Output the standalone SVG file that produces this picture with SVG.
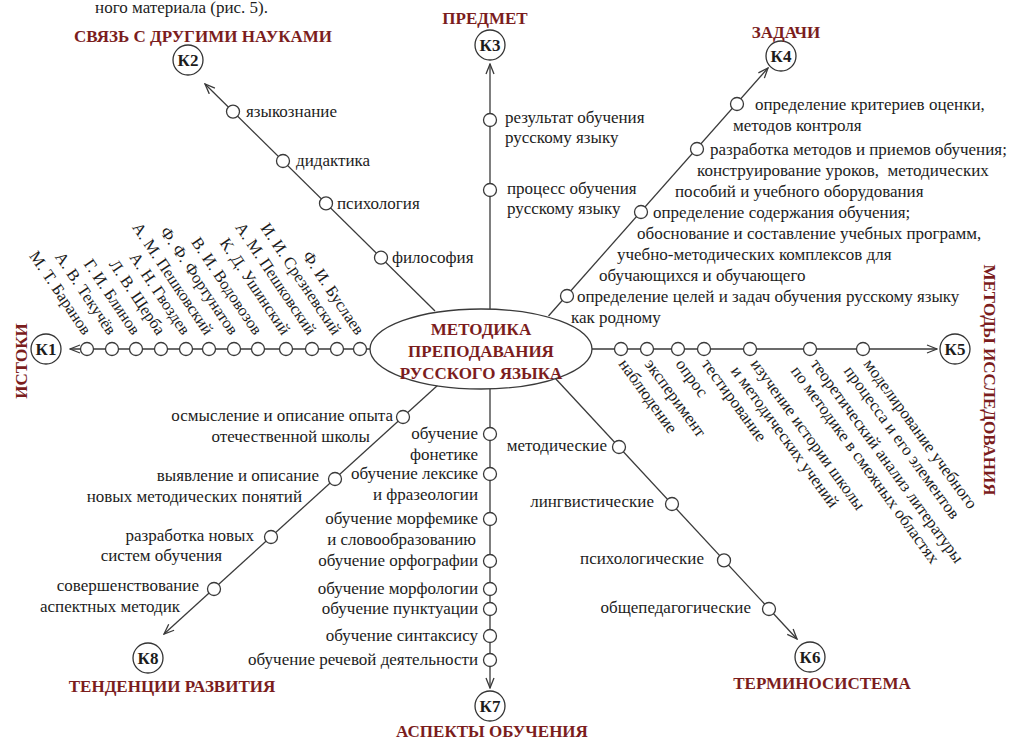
<svg xmlns="http://www.w3.org/2000/svg" width="1018" height="742" viewBox="0 0 1018 742">
<defs>
<style>
text{font-family:"Liberation Serif","Times New Roman",serif;font-size:17px;fill:#1c1c1c}
.h{font-weight:bold;fill:#7b1d1d}
.k{font-weight:bold;text-anchor:middle;fill:#1c1c1c}
.m{text-anchor:middle}
.e{text-anchor:end}
.n{font-size:16.5px}
.ln{stroke:#3a3a3a;stroke-width:1.3;fill:none;marker-end:url(#a)}
.d{fill:#fff;stroke:#3a3a3a;stroke-width:1.3}
.kc{fill:#fff;stroke:#333;stroke-width:1.3}
</style>
<marker id="a" viewBox="0 0 12 10" refX="11" refY="5" markerWidth="12" markerHeight="10" orient="auto" markerUnits="userSpaceOnUse">
<path d="M1,1 L11,5 L1,9" fill="none" stroke="#3a3a3a" stroke-width="1.3"/>
</marker>
</defs>
<rect width="1018" height="742" fill="#fff"/>
<text x="268" y="13" class="e" style="font-size:17px">ного материала (рис. 5).</text>

<g id="connectors">
<path class="ln" d="M370,349 L70,349"/>
<path class="ln" d="M435,311 L205,84"/>
<path class="ln" d="M490,309 L490,64"/>
<path class="ln" d="M548.5,316 L768,68"/>
<path class="ln" d="M592,349 L937,349"/>
<path class="ln" d="M555,378 L797,639"/>
<path class="ln" d="M490,389 L490,688"/>
<path class="ln" d="M438,385 L164,634"/>
</g>

<g id="center">
<ellipse cx="481" cy="349" rx="111" ry="40" fill="#fff" stroke="#3a3a3a" stroke-width="1.3"/>
<text x="481" y="335" class="h m">МЕТОДИКА</text>
<text x="481" y="357" class="h m">ПРЕПОДАВАНИЯ</text>
<text x="481" y="379" class="h m">РУССКОГО ЯЗЫКА</text>
</g>

<g id="k1">
<circle class="kc" cx="46" cy="349" r="15"/><text x="46" y="355" class="k">К1</text>
<text transform="translate(27,361) rotate(-90)" class="h m">ИСТОКИ</text>
<g class="dots">
<circle class="d" cx="87" cy="349" r="6.5"/><circle class="d" cx="112" cy="349" r="6.5"/><circle class="d" cx="136" cy="349" r="6.5"/><circle class="d" cx="161" cy="349" r="6.5"/><circle class="d" cx="186" cy="349" r="6.5"/><circle class="d" cx="209" cy="349" r="6.5"/><circle class="d" cx="234" cy="349" r="6.5"/><circle class="d" cx="258" cy="349" r="6.5"/><circle class="d" cx="286" cy="349" r="6.5"/><circle class="d" cx="312" cy="349" r="6.5"/><circle class="d" cx="337" cy="349" r="6.5"/><circle class="d" cx="360" cy="349" r="6.5"/>
</g>
<text class="e n" transform="translate(83,336) rotate(56)">М. Т. Баранов</text>
<text class="e n" transform="translate(108,336) rotate(56)">А. В. Текучёв</text>
<text class="e n" transform="translate(132,336) rotate(56)">Г. И. Блинов</text>
<text class="e n" transform="translate(157,336) rotate(56)">Л. В. Щерба</text>
<text class="e n" transform="translate(182,336) rotate(56)">А. Н. Гвоздев</text>
<text class="e n" transform="translate(205,336) rotate(56)">А. М. Пешковский</text>
<text class="e n" transform="translate(230,336) rotate(56)">Ф. Ф. Фортунатов</text>
<text class="e n" transform="translate(254,336) rotate(56)">В. И. Водовозов</text>
<text class="e n" transform="translate(282,336) rotate(56)">К. Д. Ушинский</text>
<text class="e n" transform="translate(308,336) rotate(56)">А. М. Пешковский</text>
<text class="e n" transform="translate(333,336) rotate(56)">И. И. Срезневский</text>
<text class="e n" transform="translate(356,336) rotate(56)">Ф. И. Буслаев</text>
</g>

<g id="k2">
<circle class="kc" cx="188" cy="60" r="15"/><text x="188" y="66" class="k">К2</text>
<text x="203" y="42" class="h m">СВЯЗЬ С ДРУГИМИ НАУКАМИ</text>
<circle class="d" cx="233" cy="111.6" r="6.5"/><circle class="d" cx="283" cy="161" r="6.5"/><circle class="d" cx="326" cy="203.4" r="6.5"/><circle class="d" cx="381" cy="257.7" r="6.5"/>
<text x="246" y="117">языкознание</text>
<text x="296" y="166">дидактика</text>
<text x="337" y="209">психология</text>
<text x="392" y="263">философия</text>
</g>

<g id="k3">
<circle class="kc" cx="490" cy="45" r="15"/><text x="490" y="51" class="k">К3</text>
<text x="485" y="24" class="h m">ПРЕДМЕТ</text>
<circle class="d" cx="490" cy="120" r="6.5"/><circle class="d" cx="490" cy="190" r="6.5"/>
<text x="505" y="123">результат обучения</text>
<text x="505" y="143">русскому языку</text>
<text x="507" y="194">процесс обучения</text>
<text x="507" y="214">русскому языку</text>
</g>

<g id="k4">
<circle class="kc" cx="781" cy="56" r="15"/><text x="781" y="62" class="k">К4</text>
<text x="786" y="38" class="h m">ЗАДАЧИ</text>
<circle class="d" cx="567" cy="296" r="6.5"/><circle class="d" cx="641" cy="212" r="6.5"/><circle class="d" cx="697" cy="149" r="6.5"/><circle class="d" cx="737" cy="104" r="6.5"/>
<text x="755" y="110">определение критериев оценки,</text>
<text x="733" y="131">методов контроля</text>
<text x="710" y="155">разработка методов и приемов обучения;</text>
<text x="697" y="176" xml:space="preserve">конструирование уроков,  методических</text>
<text x="675" y="197">пособий и учебного оборудования</text>
<text x="653" y="218">определение содержания обучения;</text>
<text x="637" y="239">обоснование и составление учебных программ,</text>
<text x="617" y="260">учебно-методических комплексов для</text>
<text x="599" y="281">обучающихся и обучающего</text>
<text x="577" y="302">определение целей и задач обучения русскому языку</text>
<text x="571" y="323">как родному</text>
</g>

<g id="k5">
<circle class="kc" cx="955" cy="349" r="15"/><text x="955" y="355" class="k">К5</text>
<text transform="translate(984,380) rotate(90)" class="h m">МЕТОДЫ ИССЛЕДОВАНИЯ</text>
<circle class="d" cx="621" cy="349" r="6.5"/><circle class="d" cx="647" cy="349" r="6.5"/><circle class="d" cx="678" cy="349" r="6.5"/><circle class="d" cx="704" cy="349" r="6.5"/><circle class="d" cx="750" cy="349" r="6.5"/><circle class="d" cx="810" cy="349" r="6.5"/><circle class="d" cx="863" cy="349" r="6.5"/>
<text transform="translate(618,364) rotate(54)">наблюдение</text>
<text transform="translate(644,364) rotate(54)">эксперимент</text>
<text transform="translate(675,364) rotate(54)">опрос</text>
<text transform="translate(701,364) rotate(54)">тестирование</text>
<text transform="translate(750,364) rotate(54)"><tspan x="0" y="0">изучение истории школы</tspan><tspan x="-6" y="20">и методических учений</tspan></text>
<text transform="translate(810,364) rotate(54)"><tspan x="0" y="0">теоретический анализ литературы</tspan><tspan x="-6" y="20">по методике в смежных областях</tspan></text>
<text transform="translate(863,364) rotate(54)"><tspan x="0" y="0">моделирование учебного</tspan><tspan x="-6" y="20">процесса и его элементов</tspan></text>
</g>

<g id="k6">
<circle class="kc" cx="810" cy="657" r="15"/><text x="810" y="663" class="k">К6</text>
<text x="822" y="689" class="h m">ТЕРМИНОСИСТЕМА</text>
<circle class="d" cx="619" cy="447" r="6.5"/><circle class="d" cx="672" cy="504" r="6.5"/><circle class="d" cx="724" cy="560.4" r="6.5"/><circle class="d" cx="769" cy="609" r="6.5"/>
<text x="607" y="451" class="e">методические</text>
<text x="654" y="507" class="e">лингвистические</text>
<text x="704" y="564" class="e">психологические</text>
<text x="751" y="613" class="e">общепедагогические</text>
</g>

<g id="k7">
<circle class="kc" cx="490" cy="706" r="15"/><text x="490" y="712" class="k">К7</text>
<text x="492" y="737" class="h m">АСПЕКТЫ ОБУЧЕНИЯ</text>
<circle class="d" cx="490" cy="434" r="6.5"/><circle class="d" cx="490" cy="474" r="6.5"/><circle class="d" cx="490" cy="519" r="6.5"/><circle class="d" cx="490" cy="561" r="6.5"/><circle class="d" cx="490" cy="589" r="6.5"/><circle class="d" cx="490" cy="609" r="6.5"/><circle class="d" cx="490" cy="636" r="6.5"/><circle class="d" cx="490" cy="660" r="6.5"/>
<text x="478" y="439" class="e">обучение</text>
<text x="478" y="460" class="e">фонетике</text>
<text x="478" y="479" class="e">обучение лексике</text>
<text x="478" y="500" class="e">и фразеологии</text>
<text x="478" y="524" class="e">обучение морфемике</text>
<text x="476" y="545" class="e">и словообразованию</text>
<text x="478" y="566" class="e">обучение орфографии</text>
<text x="478" y="594" class="e">обучение морфологии</text>
<text x="478" y="614" class="e">обучение пунктуации</text>
<text x="478" y="641" class="e">обучение синтаксису</text>
<text x="478" y="665" class="e">обучение речевой деятельности</text>
</g>

<g id="k8">
<circle class="kc" cx="148" cy="658" r="15"/><text x="148" y="664" class="k">К8</text>
<text x="172" y="692" class="h m">ТЕНДЕНЦИИ РАЗВИТИЯ</text>
<circle class="d" cx="403" cy="417" r="6.5"/><circle class="d" cx="335" cy="479" r="6.5"/><circle class="d" cx="271" cy="537" r="6.5"/><circle class="d" cx="214" cy="589" r="6.5"/>
<text x="393" y="421" class="e">осмысление и описание опыта</text>
<text x="370" y="442" class="e">отечественной школы</text>
<text x="319" y="481" class="e">выявление и описание</text>
<text x="302" y="502" class="e">новых методических понятий</text>
<text x="254" y="541" class="e">разработка новых</text>
<text x="222" y="561" class="e">систем обучения</text>
<text x="199" y="591" class="e">совершенствование</text>
<text x="180" y="612" class="e">аспектных методик</text>
</g>
</svg>
